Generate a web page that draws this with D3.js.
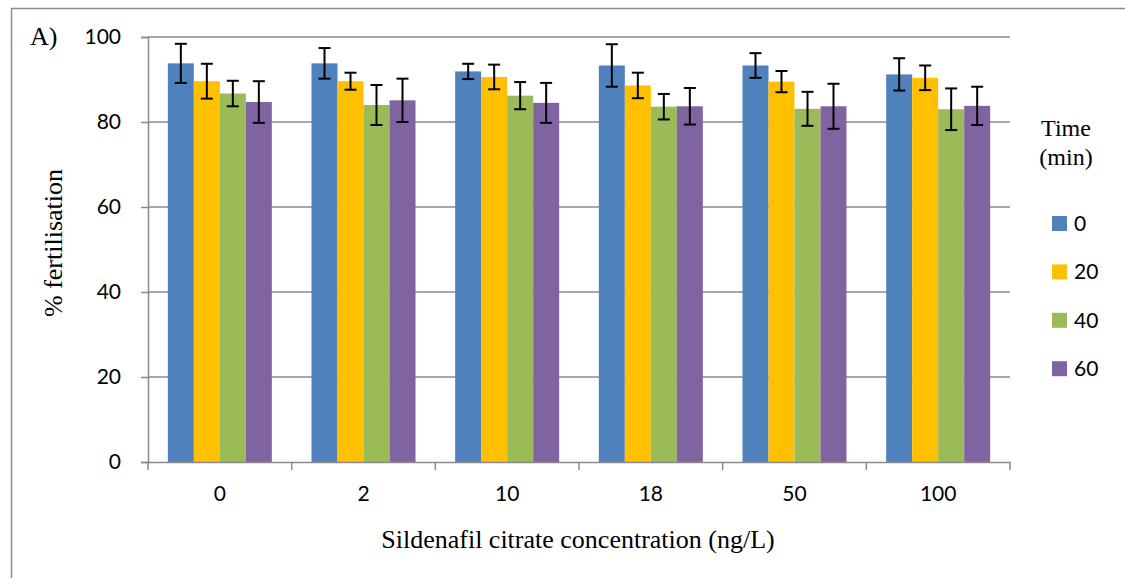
<!DOCTYPE html>
<html>
<head>
<meta charset="utf-8">
<script src="https://cdn.jsdelivr.net/npm/d3@7"></script>
<style>
  body { margin: 0; background: #fff; }
  svg { display: block; }
</style>
</head>
<body>
<svg id="chart" width="1125" height="578"></svg>
<script>
// concentrations (ng/L) and time points (min)
var concentrations = ["0", "2", "10", "18", "50", "100"];
var times = ["0", "20", "40", "60"];

// % fertilisation, one array per time point (across concentrations)
var mean0  = [93.8, 93.8, 91.9, 93.3, 93.3, 91.2];
var mean20 = [89.6, 89.6, 90.6, 88.6, 89.5, 90.4];
var mean40 = [86.7, 84.0, 86.2, 83.6, 83.1, 83.0];
var mean60 = [84.7, 85.1, 84.5, 83.7, 83.7, 83.8];

// error bar half-lengths
var err0  = [4.6, 3.6, 1.8, 5.0, 2.9, 3.8];
var err20 = [4.1, 2.0, 2.9, 3.0, 2.5, 2.9];
var err40 = [3.0, 4.7, 3.2, 3.0, 4.0, 4.9];
var err60 = [4.9, 5.1, 4.7, 4.3, 5.3, 4.5];

var yTicks = [0, 20, 40, 60, 80, 100];
var colors = ["#4F81BD", "#FFC000", "#9BBB59", "#8064A2"];

function drawChart() {
  var means = [mean0, mean20, mean40, mean60];
  var errs = [err0, err20, err40, err60];

  var svg = d3.select("#chart");
  var plotLeft = 148, plotRight = 1010, plotTop = 37, plotBottom = 462;
  var gridColor = "#8a8a8a";
  var serif = "'Liberation Serif', 'Times New Roman', serif";
  var sans = "Lato, 'Open Sans', sans-serif";

  // outer frame (only left and top edges show)
  svg.append("path")
    .attr("d", "M11.5,578 L11.5,8.5 L1125,8.5")
    .attr("fill", "none")
    .attr("stroke", "#8c8c8c")
    .attr("stroke-width", 1.5);

  var x0 = d3.scaleBand().domain(concentrations).range([plotLeft, plotRight]).padding(0);
  var bandPad = (x0.bandwidth() - 104) / 2;
  var x1 = d3.scaleBand().domain(times).range([bandPad, x0.bandwidth() - bandPad]).padding(0);
  var y = d3.scaleLinear().domain([0, 100]).range([plotBottom, plotTop]);

  // gridlines
  svg.append("g")
    .selectAll("line")
    .data(yTicks.filter(function(d) { return d > 0; }))
    .enter().append("line")
      .attr("x1", plotLeft).attr("x2", plotRight)
      .attr("y1", function(d) { return y(d); })
      .attr("y2", function(d) { return y(d); })
      .attr("stroke", gridColor)
      .attr("stroke-width", 1.5);

  function rows(c, i) {
    return times.map(function(t, k) { return { t: t, k: k, v: means[k][i], e: errs[k][i] }; });
  }

  // bars
  var groups = svg.append("g")
    .selectAll("g")
    .data(concentrations)
    .enter().append("g")
      .attr("transform", function(d) { return "translate(" + x0(d) + ",0)"; });

  groups.selectAll("rect")
    .data(rows)
    .enter().append("rect")
      .attr("x", function(d) { return x1(d.t); })
      .attr("y", function(d) { return y(d.v); })
      .attr("width", x1.bandwidth())
      .attr("height", function(d) { return y(0) - y(d.v); })
      .attr("fill", function(d) { return colors[d.k]; });

  // error bars
  var eb = groups.selectAll("g.err")
    .data(rows)
    .enter().append("g")
      .attr("class", "err")
      .attr("stroke", "#000")
      .attr("stroke-width", 2);

  function cx(d) { return x1(d.t) + x1.bandwidth() / 2; }

  eb.append("line")
    .attr("x1", cx).attr("x2", cx)
    .attr("y1", function(d) { return y(d.v + d.e); })
    .attr("y2", function(d) { return y(d.v - d.e); });
  [1, -1].forEach(function(s) {
    eb.append("line")
      .attr("x1", function(d) { return cx(d) - 6; })
      .attr("x2", function(d) { return cx(d) + 6; })
      .attr("y1", function(d) { return y(d.v + s * d.e); })
      .attr("y2", function(d) { return y(d.v + s * d.e); });
  });

  // y axis
  var yAxis = svg.append("g")
    .attr("transform", "translate(" + plotLeft + ",0)")
    .call(d3.axisLeft(y).tickValues(yTicks).tickSize(7).tickPadding(20));
  yAxis.select(".domain").attr("stroke", gridColor).attr("stroke-width", 1.5);
  yAxis.selectAll(".tick line").attr("stroke", gridColor).attr("stroke-width", 1.5);
  yAxis.selectAll(".tick text")
    .attr("fill", "#000")
    .style("font-family", sans)
    .style("font-size", "21px");

  // x axis
  var xAxis = svg.append("g")
    .attr("transform", "translate(0," + plotBottom + ")")
    .call(d3.axisBottom(x0).tickSize(0).tickPadding(24));
  xAxis.select(".domain").attr("stroke", gridColor).attr("stroke-width", 1.5);
  xAxis.selectAll(".tick text")
    .attr("fill", "#000")
    .style("font-family", sans)
    .style("font-size", "21px");
  // category boundary ticks
  svg.append("g")
    .selectAll("line")
    .data(concentrations.concat(["end"]))
    .enter().append("line")
      .attr("x1", function(d) { return d === "end" ? plotRight : x0(d); })
      .attr("x2", function(d) { return d === "end" ? plotRight : x0(d); })
      .attr("y1", plotBottom).attr("y2", plotBottom + 8)
      .attr("stroke", gridColor)
      .attr("stroke-width", 1.5);

  // titles
  svg.append("text")
    .attr("x", 30).attr("y", 45)
    .style("font-family", serif).style("font-size", "26px")
    .text("A)");

  svg.append("text")
    .attr("transform", "translate(62,243) rotate(-90)")
    .attr("text-anchor", "middle")
    .style("font-family", serif).style("font-size", "26px")
    .text("% fertilisation");

  svg.append("text")
    .attr("x", 578).attr("y", 548)
    .attr("text-anchor", "middle")
    .style("font-family", serif).style("font-size", "26px")
    .text("Sildenafil citrate concentration (ng/L)");

  // legend
  var legend = svg.append("g");
  legend.append("text")
    .attr("x", 1066).attr("y", 136)
    .attr("text-anchor", "middle")
    .style("font-family", serif).style("font-size", "24px")
    .text("Time");
  legend.append("text")
    .attr("x", 1066).attr("y", 165)
    .attr("text-anchor", "middle")
    .style("font-family", serif).style("font-size", "24px")
    .text("(min)");

  var item = legend.selectAll("g.item")
    .data(times)
    .enter().append("g")
      .attr("class", "item")
      .attr("transform", function(d, i) { return "translate(1052," + (216 + i * 48.4) + ")"; });
  item.append("rect")
    .attr("width", 15).attr("height", 15)
    .attr("fill", function(d, i) { return colors[i]; });
  item.append("text")
    .attr("x", 22).attr("y", 15)
    .style("font-family", sans).style("font-size", "21px")
    .text(function(d) { return d; });
}

drawChart();
</script>
</body>
</html>
